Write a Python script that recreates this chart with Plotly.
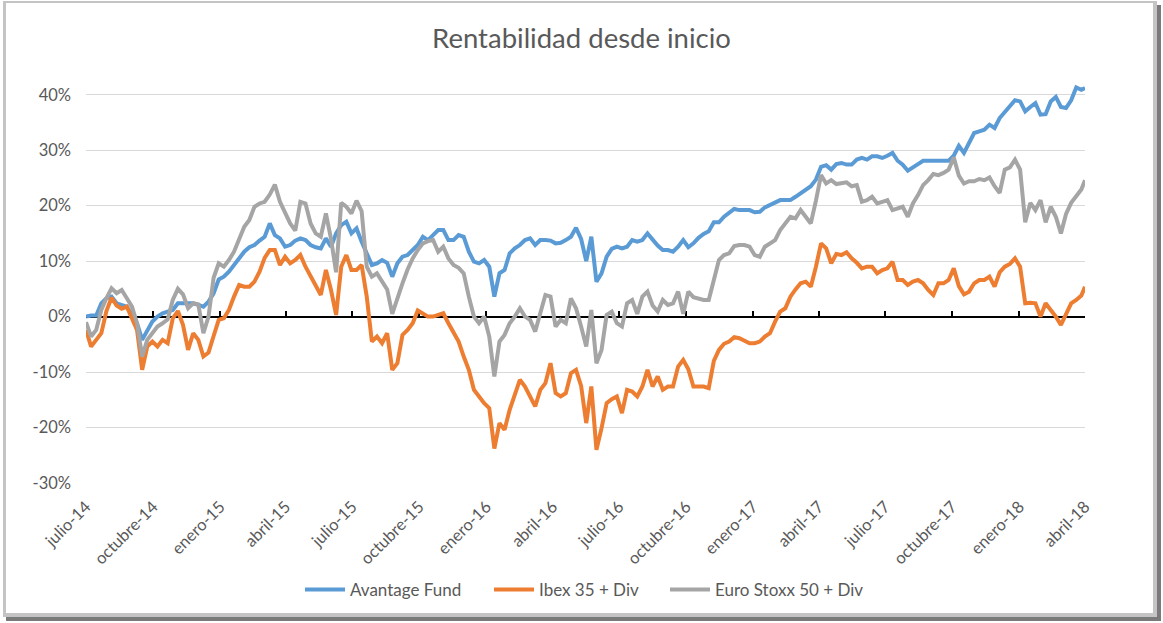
import plotly.graph_objects as go

# ---------------- data (weekly values, in %) ----------------
dates = [
    "2014-07-01", "2014-07-08", "2014-07-15", "2014-07-22", "2014-07-29", "2014-08-05", "2014-08-12",
    "2014-08-19", "2014-08-26", "2014-09-02", "2014-09-09", "2014-09-16", "2014-09-23", "2014-09-30",
    "2014-10-07", "2014-10-14", "2014-10-21", "2014-10-28", "2014-11-04", "2014-11-11", "2014-11-18",
    "2014-11-25", "2014-12-02", "2014-12-09", "2014-12-16", "2014-12-23", "2014-12-30",
    "2015-01-06", "2015-01-13", "2015-01-20", "2015-01-27", "2015-02-03", "2015-02-10", "2015-02-17",
    "2015-02-24", "2015-03-03", "2015-03-10", "2015-03-17", "2015-03-24", "2015-03-31", "2015-04-07",
    "2015-04-14", "2015-04-21", "2015-04-28", "2015-05-05", "2015-05-12", "2015-05-19", "2015-05-26",
    "2015-06-02", "2015-06-09", "2015-06-16", "2015-06-23", "2015-06-30", "2015-07-07", "2015-07-14",
    "2015-07-21", "2015-07-28", "2015-08-04", "2015-08-11", "2015-08-18", "2015-08-25", "2015-09-01",
    "2015-09-08", "2015-09-15", "2015-09-22", "2015-09-29", "2015-10-06", "2015-10-13", "2015-10-20",
    "2015-10-27", "2015-11-03", "2015-11-10", "2015-11-17", "2015-11-24", "2015-12-01", "2015-12-08",
    "2015-12-15", "2015-12-22", "2015-12-29",
    "2016-01-05", "2016-01-12", "2016-01-19", "2016-01-26", "2016-02-02", "2016-02-09", "2016-02-16",
    "2016-02-23", "2016-03-01", "2016-03-08", "2016-03-15", "2016-03-22", "2016-03-29", "2016-04-05",
    "2016-04-12", "2016-04-19", "2016-04-26", "2016-05-03", "2016-05-10", "2016-05-17", "2016-05-24",
    "2016-05-31", "2016-06-07", "2016-06-14", "2016-06-21", "2016-06-28", "2016-07-05", "2016-07-12",
    "2016-07-19", "2016-07-26", "2016-08-02", "2016-08-09", "2016-08-16", "2016-08-23", "2016-08-30",
    "2016-09-06", "2016-09-13", "2016-09-20", "2016-09-27", "2016-10-04", "2016-10-11", "2016-10-18",
    "2016-10-25", "2016-11-01", "2016-11-08", "2016-11-15", "2016-11-22", "2016-11-29", "2016-12-06",
    "2016-12-13", "2016-12-20", "2016-12-27",
    "2017-01-03", "2017-01-10", "2017-01-17", "2017-01-24", "2017-01-31", "2017-02-07", "2017-02-14",
    "2017-02-21", "2017-02-28", "2017-03-07", "2017-03-14", "2017-03-21", "2017-03-28", "2017-04-04",
    "2017-04-11", "2017-04-18", "2017-04-25", "2017-05-02", "2017-05-09", "2017-05-16", "2017-05-23",
    "2017-05-30", "2017-06-06", "2017-06-13", "2017-06-20", "2017-06-27", "2017-07-04", "2017-07-11",
    "2017-07-18", "2017-07-25", "2017-08-01", "2017-08-08", "2017-08-15", "2017-08-22", "2017-08-29",
    "2017-09-05", "2017-09-12", "2017-09-19", "2017-09-26", "2017-10-03", "2017-10-10", "2017-10-17",
    "2017-10-24", "2017-10-31", "2017-11-07", "2017-11-14", "2017-11-21", "2017-11-28", "2017-12-05",
    "2017-12-12", "2017-12-19", "2017-12-26",
    "2018-01-02", "2018-01-09", "2018-01-16", "2018-01-23", "2018-01-30", "2018-02-06", "2018-02-13",
    "2018-02-20", "2018-02-27", "2018-03-06", "2018-03-13", "2018-03-20", "2018-03-27", "2018-04-01",
]

avantage = [
    0.0, 0.2, 0.2, 2.4, 3.3, 3.6, 2.4, 2.1, 1.8, 0.3,
    -1.2, -4.2, -2.5, -0.9, 0.0, 0.6, 0.9, 1.2, 2.4, 2.4,
    2.4, 2.4, 2.1, 1.8, 2.7, 4.2, 6.7, 7.2, 8.1, 9.3,
    10.7, 11.7, 12.5, 12.9, 13.7, 14.4, 16.8, 14.7, 14.1, 12.6,
    12.9, 13.7, 14.1, 13.8, 12.9, 12.5, 12.3, 14.1, 12.6, 15.0,
    16.5, 17.1, 15.0, 15.9, 13.5, 11.4, 9.3, 9.6, 10.2, 9.7,
    7.2, 9.6, 10.8, 11.1, 12.0, 12.9, 14.4, 13.8, 14.7, 15.6,
    15.6, 13.8, 13.8, 14.7, 14.4, 11.7, 9.9, 9.6, 10.2, 9.0,
    3.6, 7.8, 8.4, 11.4, 12.3, 12.9, 13.8, 14.1, 12.9, 13.8,
    13.8, 13.7, 13.2, 13.3, 13.8, 14.4, 16.0, 14.0, 10.0, 14.4,
    6.3, 7.8, 10.8, 12.2, 12.6, 12.3, 12.6, 13.8, 13.5, 13.8,
    15.0, 13.8, 12.8, 12.0, 12.0, 11.7, 12.6, 13.8, 12.5, 13.2,
    14.2, 14.9, 15.4, 17.0, 17.0, 18.0, 18.6, 19.4, 19.2, 19.2,
    19.2, 18.8, 18.9, 19.7, 20.1, 20.6, 21.0, 21.0, 21.0, 21.6,
    22.2, 22.9, 23.5, 24.7, 27.0, 27.3, 26.5, 27.5, 27.7, 27.4,
    27.4, 28.3, 28.6, 28.3, 28.9, 28.9, 28.6, 29.0, 29.5, 28.1,
    27.4, 26.3, 26.8, 27.5, 28.1, 28.1, 28.0, 28.1, 28.0, 28.1,
    29.0, 30.8, 29.5, 31.3, 33.1, 33.4, 33.7, 34.6, 34.0, 35.8,
    36.8, 37.8, 39.0, 38.8, 37.0, 37.8, 38.5, 36.4, 36.5, 38.8,
    39.6, 37.8, 37.6, 39.0, 41.3, 40.9, 41.2,
]

ibex = [
    -2.4, -5.4, -4.2, -3.0, 1.0, 3.4, 2.0, 1.4, 1.8, -0.5,
    -2.4, -9.6, -5.4, -4.5, -5.4, -4.2, -4.8, -0.3, 1.0, -1.5,
    -6.0, -3.0, -4.2, -7.2, -6.5, -3.5, -0.6, -0.3, 1.2, 3.6,
    5.7, 5.4, 5.4, 6.3, 8.1, 10.6, 12.0, 12.0, 9.3, 10.8,
    9.6, 10.2, 11.1, 9.0, 7.2, 5.7, 3.9, 8.4, 4.8, 0.3,
    9.0, 11.1, 8.4, 8.4, 9.3, 3.6, -4.5, -3.6, -4.8, -3.0,
    -9.6, -8.4, -3.3, -2.4, -1.2, 1.1, 0.6, 0.0, 0.0, 0.3,
    0.6, -1.2, -3.0, -4.5, -7.2, -9.6, -13.2, -14.4, -15.6, -16.5,
    -23.8, -19.2, -20.4, -16.8, -13.8, -11.4, -12.6, -14.4, -16.2, -13.2,
    -12.0, -8.4, -13.8, -14.4, -13.8, -10.2, -9.6, -12.5, -19.2, -12.6,
    -24.0, -20.1, -15.6, -14.9, -14.4, -17.4, -13.2, -13.5, -14.4, -12.6,
    -9.6, -12.6, -10.8, -13.2, -12.6, -12.6, -9.0, -7.8, -9.5, -12.6,
    -12.6, -12.6, -12.9, -8.0, -6.0, -4.9, -4.5, -3.7, -3.9, -4.3,
    -4.8, -4.8, -4.5, -3.6, -3.0, -0.9, 0.9, 1.5, 3.6, 4.9,
    6.0, 6.3, 5.4, 9.0, 13.2, 12.3, 9.6, 11.3, 11.1, 11.6,
    10.5, 9.7, 8.7, 9.0, 9.0, 7.8, 8.4, 8.7, 9.9, 6.6,
    6.6, 5.7, 6.3, 6.6, 6.0, 4.8, 3.9, 6.0, 6.0, 6.6,
    8.7, 5.5, 4.0, 4.5, 6.0, 6.6, 6.6, 7.2, 5.4, 8.0,
    9.0, 9.5, 10.5, 9.0, 2.4, 2.5, 2.4, 0.0, 2.4, 1.2,
    0.0, -1.5, 0.5, 2.4, 3.0, 3.8, 5.4,
]

stoxx = [
    -1.0, -3.6, -2.4, 1.2, 3.3, 5.1, 4.2, 4.8, 3.3, 1.8,
    -1.2, -7.2, -4.2, -3.0, -1.8, -1.2, -0.5, 3.0, 5.0, 4.0,
    1.5, 2.4, 2.2, -3.0, 0.0, 7.0, 9.6, 9.0, 10.2, 11.7,
    13.8, 16.2, 17.4, 19.8, 20.4, 20.7, 22.0, 23.8, 20.7, 18.6,
    16.8, 15.5, 20.7, 20.4, 16.8, 15.0, 14.4, 18.6, 14.0, 8.0,
    20.5, 19.8, 18.6, 20.9, 19.0, 9.0, 7.2, 7.8, 6.3, 4.9,
    0.5, 3.5, 6.0, 8.5, 10.5, 12.0, 13.2, 13.6, 13.8, 11.7,
    12.6, 10.5, 9.3, 8.8, 7.8, 3.6, 0.0, -1.2, 0.0, -3.6,
    -10.8, -4.5, -3.3, -1.2, 0.0, 1.5, 0.0, -0.6, -2.7, 0.6,
    3.9, 3.6, -1.8, -0.6, -1.2, 3.3, 1.5, -1.8, -5.4, 1.2,
    -8.4, -6.0, 0.3, 0.9, -1.2, -1.8, 2.4, 3.0, 0.5, 3.6,
    4.5, 2.0, 0.9, 3.0, 2.1, 2.4, 4.5, 0.5, 4.5, 3.5,
    3.3, 3.0, 3.0, 6.5, 10.2, 11.1, 11.4, 12.7, 12.9, 12.9,
    12.6, 11.1, 10.8, 12.6, 13.2, 13.8, 15.6, 16.8, 18.0, 17.7,
    19.2, 18.0, 16.8, 20.9, 25.5, 24.0, 24.6, 23.9, 24.1, 24.2,
    23.5, 23.7, 20.7, 21.0, 21.6, 20.4, 20.7, 21.0, 19.2, 19.5,
    19.8, 18.0, 20.4, 21.9, 23.7, 24.6, 25.7, 25.5, 25.9, 26.5,
    28.7, 25.4, 24.0, 24.4, 24.4, 24.8, 24.6, 25.1, 23.5, 22.3,
    26.5, 26.9, 28.3, 26.5, 17.0, 20.5, 19.2, 21.0, 17.0, 19.8,
    18.0, 15.0, 18.5, 20.5, 21.6, 22.9, 24.6,
]

series_names = ["Avantage Fund", "Ibex 35 + Div", "Euro Stoxx 50 + Div"]
series_colors = ["#5B9BD5", "#ED7D31", "#A5A5A5"]

tick_dates = [
    "2014-07-01", "2014-10-01", "2015-01-01", "2015-04-01", "2015-07-01", "2015-10-01",
    "2016-01-01", "2016-04-01", "2016-07-01", "2016-10-01", "2017-01-01", "2017-04-01",
    "2017-07-01", "2017-10-01", "2018-01-01", "2018-04-01",
]
tick_labels = [
    "julio-14", "octubre-14", "enero-15", "abril-15", "julio-15", "octubre-15",
    "enero-16", "abril-16", "julio-16", "octubre-16", "enero-17", "abril-17",
    "julio-17", "octubre-17", "enero-18", "abril-18",
]
y_ticks = [-30, -20, -10, 0, 10, 20, 30, 40]
y_labels = ["-30%", "-20%", "-10%", "0%", "10%", "20%", "30%", "40%"]

# ---------------- layout geometry ----------------
W, H = 1163, 623
ML, MR, MT, MB = 86, 78, 67, 140
Y_MIN, Y_MAX = -30, 45
PW = W - ML - MR
PH = H - MT - MB
FONT = "Lato"
TXT = "#595959"
LEGEND_PX = [300, 489, 665]   # left edge (px) of each legend entry
LEGEND_IDS = ["legend", "legend2", "legend3"]


def px_x(px):
    return (px - ML) / PW


def px_y(py):
    return (H - MB - py) / PH


n = min(len(dates), len(avantage), len(ibex), len(stoxx))

fig = go.Figure()
for name, vals, col, lg in zip(series_names, [avantage, ibex, stoxx], series_colors, LEGEND_IDS):
    fig.add_trace(go.Scatter(
        x=dates[:n], y=vals[:n], name=name, mode="lines",
        line=dict(color=col, width=4), legend=lg,
    ))

# helper trace for the horizontal category axis crossing at 0%
fig.add_trace(go.Scatter(x=[dates[0]], y=[None], xaxis="x2", showlegend=False,
                         hoverinfo="skip", mode="lines"))

shapes = [
    dict(type="rect", xref="paper", yref="paper", layer="below",
         x0=px_x(6), x1=px_x(1161), y0=px_y(621), y1=px_y(5),
         fillcolor="#7a7a7a", line=dict(width=0)),
    dict(type="rect", xref="paper", yref="paper", layer="below",
         x0=px_x(3), x1=px_x(1157), y0=px_y(617), y1=px_y(1),
         fillcolor="#c4c4c4", line=dict(width=0)),
    dict(type="rect", xref="paper", yref="paper", layer="below",
         x0=px_x(6), x1=px_x(1153), y0=px_y(613), y1=px_y(3),
         fillcolor="white", line=dict(width=0)),
]

zero_pos = (0 - Y_MIN) / (Y_MAX - Y_MIN)

legend_common = dict(orientation="h", xanchor="left", y=px_y(590), yanchor="middle",
                     font=dict(family=FONT, size=17, color=TXT), bgcolor="rgba(0,0,0,0)",
                     itemwidth=40)

fig.update_layout(
    width=W, height=H,
    margin=dict(l=ML, r=MR, t=MT, b=MB),
    paper_bgcolor="white",
    plot_bgcolor="rgba(0,0,0,0)",
    font=dict(family=FONT, color=TXT, size=16.5),
    title=dict(text="Rentabilidad desde inicio", x=0.5, xanchor="center",
               y=1 - 38 / H, yanchor="middle",
               font=dict(family=FONT, size=27.5, color=TXT)),
    xaxis=dict(
        type="date", range=[tick_dates[0], tick_dates[-1]],
        tickmode="array", tickvals=tick_dates, ticktext=tick_labels,
        tickangle=-45, showgrid=False, zeroline=False, showline=False,
        ticks="", ticklabelstandoff=10,
        tickfont=dict(family=FONT, size=16.5, color=TXT),
    ),
    xaxis2=dict(
        type="date", overlaying="x", matches="x", anchor="free", position=zero_pos,
        side="bottom", tickmode="array", tickvals=tick_dates, showticklabels=False,
        ticks="inside", ticklen=5, tickwidth=1.5, tickcolor="black",
        showline=True, linecolor="black", linewidth=1.5, showgrid=False,
        zeroline=False, layer="below traces",
    ),
    yaxis=dict(
        range=[Y_MIN, Y_MAX], tickmode="array", tickvals=y_ticks, ticktext=y_labels,
        showgrid=True, gridcolor="#d9d9d9", gridwidth=1, zeroline=False,
        showline=False, ticks="", ticklabelstandoff=14,
        tickfont=dict(family=FONT, size=16.5, color=TXT),
    ),
    legend=dict(legend_common, x=px_x(LEGEND_PX[0])),
    legend2=dict(legend_common, x=px_x(LEGEND_PX[1])),
    legend3=dict(legend_common, x=px_x(LEGEND_PX[2])),
    shapes=shapes,
    showlegend=True,
)

fig.write_html(
    "out.html",
    config={"displayModeBar": False},
    post_script="document.body.style.margin='0';document.body.style.overflow='hidden';",
)
